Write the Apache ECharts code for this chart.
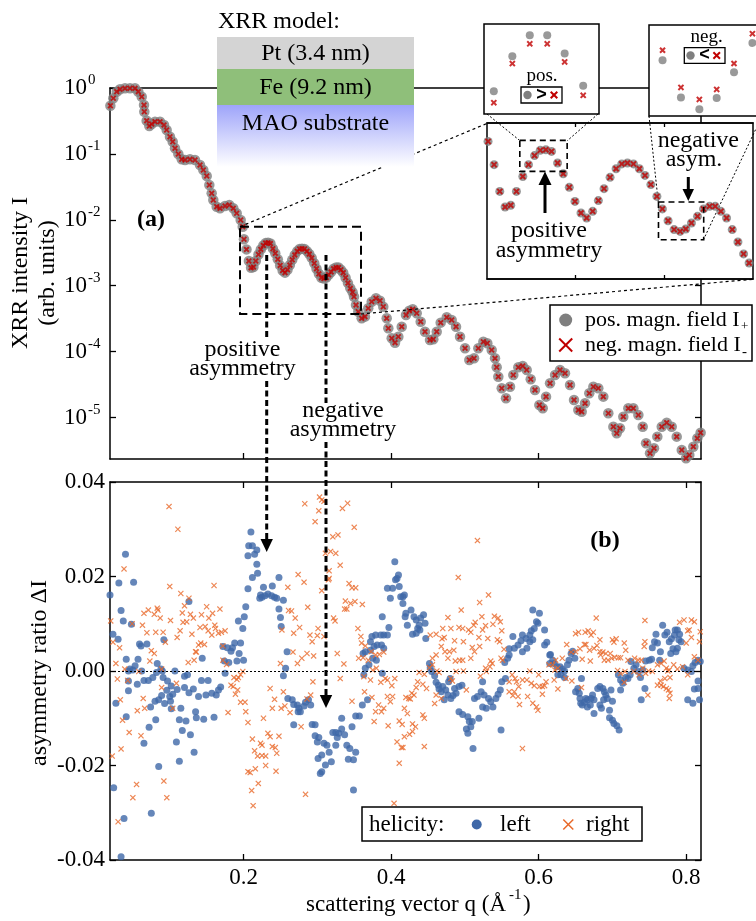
<!DOCTYPE html>
<html>
<head>
<meta charset="utf-8">
<script src="https://cdn.jsdelivr.net/npm/echarts@6/dist/echarts.min.js"></script>
<style>
html, body { margin: 0; padding: 0; background: #fff; }
#chart { width: 756px; height: 921px; }
</style>
</head>
<body>
<div id="chart"></div>
<script>
// tick positions
const qTicks = [0.2, 0.4, 0.6, 0.8];
const decades = [0, -1, -2, -3, -4, -5];
const insetTicks = [0.25, 0.3];

// XRR curve, [q (1/A), log10 I]
const xrrLow = [[0.0195,-0.270],[0.0235,-0.156],[0.0281,-0.056],[0.0326,-0.020],[0.0393,-0.005],[0.0461,-0.003],[0.0529,-0.005],[0.0574,-0.056],[0.0620,-0.132],[0.0651,-0.258],[0.0655,-0.360],[0.0687,-0.496],[0.0723,-0.577],[0.0755,-0.546],[0.0800,-0.511],[0.0868,-0.511],[0.0922,-0.561],[0.0958,-0.637],[0.1003,-0.739],[0.1040,-0.815],[0.1071,-0.915],[0.1116,-1.002],[0.1162,-1.082],[0.1207,-1.093],[0.1274,-1.082],[0.1342,-1.093],[0.1410,-1.168],[0.1455,-1.244],[0.1501,-1.335],[0.1536,-1.472],[0.1568,-1.598],[0.1590,-1.700],[0.1636,-1.801],[0.1681,-1.826],[0.1749,-1.791],[0.1807,-1.775],[0.1861,-1.826],[0.1907,-1.901],[0.1961,-2.003],[0.1989,-2.105]];
const xrrZoom = [[0.2006,-2.295],[0.2040,-2.449],[0.2072,-2.626],[0.2102,-2.729],[0.2134,-2.718],[0.2166,-2.626],[0.2202,-2.527],[0.2234,-2.449],[0.2268,-2.389],[0.2300,-2.354],[0.2332,-2.350],[0.2364,-2.361],[0.2398,-2.438],[0.2430,-2.509],[0.2464,-2.599],[0.2496,-2.692],[0.2530,-2.769],[0.2562,-2.802],[0.2596,-2.758],[0.2628,-2.687],[0.2660,-2.608],[0.2694,-2.533],[0.2728,-2.476],[0.2760,-2.444],[0.2792,-2.438],[0.2826,-2.444],[0.2859,-2.476],[0.2891,-2.520],[0.2924,-2.581],[0.2958,-2.659],[0.2989,-2.742],[0.3021,-2.820],[0.3055,-2.879],[0.3089,-2.891],[0.3121,-2.875],[0.3153,-2.835],[0.3187,-2.791],[0.3221,-2.742],[0.3255,-2.725],[0.3287,-2.725],[0.3319,-2.758],[0.3351,-2.802],[0.3383,-2.879],[0.3415,-2.961],[0.3447,-3.040],[0.3478,-3.100]];
const xrrHigh = [[0.3497,-3.167],[0.3524,-3.293],[0.3555,-3.395],[0.3601,-3.495],[0.3646,-3.470],[0.3690,-3.343],[0.3737,-3.243],[0.3795,-3.191],[0.3850,-3.228],[0.3894,-3.319],[0.3940,-3.495],[0.3962,-3.646],[0.4008,-3.798],[0.4053,-3.865],[0.4098,-3.774],[0.4144,-3.622],[0.4202,-3.445],[0.4247,-3.380],[0.4293,-3.358],[0.4347,-3.419],[0.4401,-3.546],[0.4459,-3.698],[0.4527,-3.824],[0.4572,-3.813],[0.4618,-3.698],[0.4672,-3.561],[0.4754,-3.480],[0.4821,-3.520],[0.4880,-3.622],[0.4934,-3.774],[0.5002,-3.950],[0.5060,-4.127],[0.5124,-4.102],[0.5182,-3.950],[0.5250,-3.850],[0.5304,-3.874],[0.5363,-3.976],[0.5408,-4.102],[0.5431,-4.238],[0.5453,-4.381],[0.5499,-4.557],[0.5557,-4.709],[0.5612,-4.533],[0.5656,-4.355],[0.5724,-4.238],[0.5784,-4.219],[0.5838,-4.279],[0.5892,-4.420],[0.5950,-4.583],[0.6009,-4.810],[0.6055,-4.861],[0.6100,-4.684],[0.6154,-4.481],[0.6222,-4.355],[0.6289,-4.279],[0.6357,-4.329],[0.6425,-4.507],[0.6479,-4.734],[0.6537,-4.886],[0.6583,-4.912],[0.6628,-4.785],[0.6686,-4.633],[0.6741,-4.533],[0.6808,-4.557],[0.6876,-4.684],[0.6944,-4.936],[0.7012,-5.140],[0.7058,-5.240],[0.7102,-5.164],[0.7147,-4.988],[0.7215,-4.861],[0.7283,-4.861],[0.7351,-4.962],[0.7410,-5.140],[0.7455,-5.392],[0.7509,-5.543],[0.7563,-5.467],[0.7608,-5.291],[0.7668,-5.140],[0.7735,-5.079],[0.7803,-5.140],[0.7871,-5.291],[0.7939,-5.493],[0.7997,-5.619],[0.8042,-5.569],[0.8096,-5.443],[0.8150,-5.316],[0.8195,-5.231]];

// zoomed pairs, I+ vs I-
const posPlus = [[0.2234,-2.449],[0.2268,-2.387],[0.2300,-2.350],[0.2332,-2.350],[0.2364,-2.382],[0.2398,-2.439]];
const posMinus = [[0.2234,-2.469],[0.2268,-2.400],[0.2300,-2.365],[0.2332,-2.365],[0.2364,-2.397],[0.2398,-2.456]];
const negPlus = [[0.3021,-2.817],[0.3055,-2.873],[0.3089,-2.891],[0.3121,-2.874],[0.3153,-2.835],[0.3187,-2.791]];
const negMinus = [[0.3021,-2.802],[0.3055,-2.858],[0.3089,-2.876],[0.3121,-2.861],[0.3153,-2.822],[0.3187,-2.777]];

// asymmetry ratio, [q, dI]
const leftHelicity = [[0.019,0.0161],[0.040,0.0247],[0.031,0.0186],[0.051,0.0188],[0.034,0.0128],[0.037,0.0106],[0.048,0.0099],[0.023,0.0078],[0.030,0.0067],[0.059,0.0057],[0.061,0.0053],[0.069,0.0057],[0.092,0.0066],[0.126,0.0147],[0.041,0.0025],[0.057,0.0025],[0.046,0.0004],[0.050,0.0002],[0.053,0.0011],[0.062,0.0000],[0.083,0.0016],[0.088,0.0004],[0.082,-0.0003],[0.107,0.0000],[0.120,-0.0011],[0.124,-0.0008],[0.044,-0.0042],[0.027,-0.0068],[0.041,-0.0097],[0.056,-0.0028],[0.065,-0.0020],[0.071,-0.0020],[0.077,-0.0014],[0.091,-0.0014],[0.097,-0.0021],[0.102,-0.0032],[0.110,-0.0039],[0.120,-0.0035],[0.132,-0.0038],[0.143,-0.0020],[0.152,-0.0020],[0.139,-0.0054],[0.149,-0.0051],[0.096,-0.0041],[0.100,-0.0054],[0.104,-0.0049],[0.089,-0.0052],[0.080,-0.0064],[0.074,-0.0076],[0.093,-0.0069],[0.101,-0.0064],[0.126,-0.0046],[0.157,-0.0047],[0.163,-0.0051],[0.166,-0.0040],[0.169,-0.0034],[0.175,-0.0005],[0.180,0.0018],[0.188,0.0059],[0.178,0.0049],[0.183,0.0042],[0.185,0.0049],[0.194,0.0037],[0.196,0.0059],[0.199,0.0090],[0.193,0.0106],[0.201,0.0115],[0.203,0.0136],[0.206,0.0174],[0.212,0.0198],[0.219,0.0207],[0.218,0.0226],[0.206,0.0244],[0.207,0.0265],[0.212,0.0265],[0.215,0.0247],[0.210,0.0294],[0.222,0.0154],[0.135,-0.0086],[0.160,-0.0098],[0.146,-0.0102],[0.136,-0.0099],[0.113,-0.0103],[0.122,-0.0106],[0.115,-0.0079],[0.102,-0.0080],[0.085,-0.0061],[0.081,-0.0103],[0.072,-0.0119],[0.065,-0.0153],[0.117,-0.0126],[0.128,-0.0135],[0.133,-0.0172],[0.109,-0.0150],[0.113,-0.0191],[0.085,-0.0202],[0.024,-0.0247],[0.038,-0.0312],[0.075,-0.0301],[0.034,-0.0393],[0.200,0.0023],[0.191,0.0021],[0.172,0.0052],[0.174,0.0021],[0.144,0.0027],[0.044,-0.0021],[0.044,0.0000],[0.090,0.0000],
[0.218,0.0256],[0.248,0.0198],[0.239,0.0180],[0.227,0.0177],[0.225,0.0156],[0.223,0.0161],[0.229,0.0159],[0.233,0.0163],[0.238,0.0159],[0.242,0.0156],[0.245,0.0154],[0.254,0.0150],[0.248,0.0131],[0.250,0.0113],[0.251,0.0094],[0.259,0.0041],[0.257,0.0006],[0.254,-0.0010],[0.260,-0.0058],[0.266,-0.0061],[0.268,-0.0071],[0.273,-0.0072],[0.275,-0.0079],[0.277,-0.0086],[0.282,-0.0074],[0.284,-0.0066],[0.288,-0.0061],[0.291,-0.0072],[0.274,-0.0086],[0.268,-0.0114],[0.293,-0.0113],[0.297,-0.0114],[0.297,-0.0137],[0.302,-0.0141],[0.300,-0.0150],[0.309,-0.0153],[0.313,-0.0157],[0.316,-0.0172],[0.306,-0.0178],[0.311,-0.0199],[0.306,-0.0213],[0.304,-0.0217],[0.301,-0.0185],[0.319,-0.0192],[0.321,-0.0130],[0.325,-0.0130],[0.329,-0.0132],[0.333,-0.0123],[0.337,-0.0135],[0.327,-0.0141],[0.325,-0.0157],[0.340,-0.0157],[0.344,-0.0164],[0.342,-0.0187],[0.349,-0.0188],[0.352,-0.0172],[0.347,-0.0118],[0.352,-0.0095],[0.357,-0.0095],[0.333,-0.0100],[0.361,-0.0072],[0.368,-0.0061],[0.363,-0.0008],[0.365,0.0006],[0.370,0.0013],[0.362,0.0037],[0.365,0.0041],[0.372,0.0044],[0.375,0.0027],[0.372,0.0062],[0.374,0.0073],[0.379,0.0076],[0.386,0.0076],[0.390,0.0076],[0.395,0.0076],[0.397,0.0092],[0.388,0.0115],[0.395,0.0175],[0.399,0.0154],[0.402,0.0175],[0.406,0.0193],[0.408,0.0196],[0.411,0.0179],[0.410,0.0203],[0.405,0.0231],[0.413,0.0157],[0.416,0.0143],[0.420,0.0122],[0.380,0.0023],[0.377,0.0052],[0.381,0.0055],[0.387,0.0055],[0.390,0.0048],[0.388,-0.0005],[0.349,-0.0252],
[0.416,0.0157],[0.418,0.0161],[0.419,0.0115],[0.422,0.0097],[0.427,0.0129],[0.431,0.0115],[0.434,0.0108],[0.436,0.0090],[0.438,0.0097],[0.440,0.0112],[0.444,0.0119],[0.446,0.0101],[0.429,0.0078],[0.434,0.0080],[0.439,0.0087],[0.447,0.0069],[0.452,0.0016],[0.453,0.0007],[0.455,-0.0001],[0.459,-0.0010],[0.461,-0.0024],[0.464,-0.0030],[0.465,-0.0038],[0.468,-0.0044],[0.470,-0.0033],[0.474,-0.0040],[0.478,-0.0023],[0.477,-0.0051],[0.472,-0.0061],[0.481,-0.0058],[0.484,-0.0052],[0.488,-0.0047],[0.486,-0.0037],[0.492,-0.0033],[0.496,-0.0030],[0.480,-0.0016],[0.492,-0.0086],[0.497,-0.0092],[0.504,-0.0097],[0.506,-0.0107],[0.510,-0.0107],[0.508,-0.0118],[0.502,-0.0123],[0.504,-0.0132],[0.519,-0.0100],[0.511,-0.0164],[0.513,-0.0058],[0.517,-0.0054],[0.522,-0.0044],[0.524,-0.0023],[0.526,-0.0051],[0.532,-0.0058],[0.535,-0.0065],[0.538,-0.0076],[0.542,-0.0058],[0.545,-0.0049],[0.548,-0.0040],[0.550,-0.0023],[0.555,-0.0016],[0.549,-0.0125],[0.524,-0.0076],[0.529,-0.0079],[0.560,0.0047],[0.560,0.0034],[0.558,0.0027],[0.567,0.0048],[0.572,0.0055],[0.576,0.0064],[0.578,0.0076],[0.583,0.0069],[0.588,0.0076],[0.590,0.0085],[0.594,0.0090],[0.597,0.0104],[0.601,0.0122],[0.599,0.0101],[0.592,0.0129],[0.578,0.0041],[0.584,0.0048],[0.588,0.0062],[0.592,0.0066],[0.608,0.0087],[0.611,0.0061],[0.608,0.0055],[0.615,0.0034],[0.615,0.0016],[0.565,0.0073],[0.554,0.0018],
[0.616,0.0035],[0.619,0.0023],[0.621,0.0016],[0.625,0.0009],[0.629,0.0009],[0.632,0.0004],[0.635,0.0000],[0.635,-0.0014],[0.626,-0.0008],[0.630,-0.0008],[0.639,0.0013],[0.641,0.0023],[0.644,0.0037],[0.646,0.0042],[0.649,0.0027],[0.650,-0.0044],[0.653,-0.0037],[0.655,-0.0047],[0.656,-0.0058],[0.657,-0.0068],[0.659,-0.0072],[0.662,-0.0066],[0.664,-0.0058],[0.666,-0.0061],[0.671,-0.0058],[0.673,-0.0051],[0.675,-0.0061],[0.670,-0.0072],[0.666,-0.0076],[0.658,-0.0016],[0.680,-0.0037],[0.683,-0.0033],[0.687,-0.0037],[0.689,-0.0044],[0.691,-0.0051],[0.693,-0.0058],[0.683,-0.0072],[0.685,-0.0079],[0.688,-0.0061],[0.696,-0.0083],[0.675,-0.0090],[0.696,-0.0099],[0.700,-0.0104],[0.702,-0.0111],[0.706,-0.0116],[0.709,-0.0125],[0.700,-0.0064],[0.698,-0.0040],[0.708,-0.0008],[0.711,-0.0019],[0.714,-0.0026],[0.711,-0.0040],[0.718,-0.0014],[0.721,-0.0016],[0.724,-0.0008],[0.725,0.0020],[0.729,0.0006],[0.732,0.0013],[0.735,-0.0001],[0.738,-0.0014],[0.739,-0.0061],[0.744,-0.0037],[0.741,0.0002],[0.745,0.0021],[0.750,0.0023],[0.753,0.0025],[0.754,0.0049],[0.759,0.0078],[0.757,0.0062],[0.761,0.0059],[0.765,0.0041],[0.764,0.0023],[0.768,0.0097],[0.771,0.0076],[0.774,0.0082],[0.777,0.0062],[0.780,0.0068],[0.785,0.0087],[0.788,0.0087],[0.784,0.0076],[0.791,0.0078],[0.790,0.0066],[0.788,0.0048],[0.782,0.0047],[0.779,0.0037],[0.786,0.0041],[0.793,0.0062],[0.797,0.0006],[0.802,0.0002],[0.807,-0.0001],[0.809,0.0011],[0.812,0.0018],[0.816,0.0023],[0.819,0.0020],[0.802,-0.0061],[0.809,-0.0068],[0.811,-0.0038],[0.816,-0.0037],[0.818,-0.0061],[0.816,-0.0021]];

const rightHelicity = [[0.099,0.0348],[0.111,0.0300],[0.038,0.0216],[0.100,0.0179],[0.160,0.0181],[0.115,0.0164],[0.020,0.0106],[0.126,0.0154],[0.065,0.0122],[0.071,0.0129],[0.079,0.0120],[0.083,0.0133],[0.087,0.0112],[0.084,0.0129],[0.101,0.0107],[0.117,0.0123],[0.120,0.0138],[0.118,0.0103],[0.123,0.0104],[0.128,0.0120],[0.132,0.0112],[0.141,0.0092],[0.143,0.0119],[0.150,0.0136],[0.153,0.0112],[0.158,0.0122],[0.161,0.0097],[0.168,0.0131],[0.148,0.0094],[0.152,0.0085],[0.157,0.0076],[0.162,0.0090],[0.166,0.0080],[0.170,0.0082],[0.175,0.0085],[0.063,0.0097],[0.049,0.0100],[0.023,0.0061],[0.032,0.0049],[0.069,0.0081],[0.081,0.0082],[0.091,0.0082],[0.094,0.0061],[0.110,0.0071],[0.114,0.0085],[0.130,0.0078],[0.139,0.0055],[0.142,0.0059],[0.147,0.0056],[0.075,0.0043],[0.079,0.0037],[0.135,0.0041],[0.136,0.0040],[0.172,0.0053],[0.027,0.0016],[0.073,0.0021],[0.125,0.0018],[0.133,0.0023],[0.172,0.0023],[0.177,0.0014],[0.039,0.0004],[0.089,0.0004],[0.029,-0.0017],[0.043,-0.0020],[0.058,-0.0001],[0.089,-0.0035],[0.109,-0.0026],[0.033,-0.0061],[0.064,-0.0058],[0.056,-0.0084],[0.066,-0.0079],[0.104,-0.0079],[0.036,-0.0104],[0.045,-0.0130],[0.061,-0.0137],[0.034,-0.0165],[0.022,-0.0180],[0.179,-0.0088],[0.187,-0.0014],[0.191,-0.0018],[0.193,-0.0014],[0.196,-0.0008],[0.199,-0.0001],[0.183,-0.0030],[0.186,-0.0033],[0.192,-0.0040],[0.189,-0.0049],[0.196,-0.0066],[0.202,-0.0066],[0.203,-0.0086],[0.206,-0.0109],[0.212,-0.0144],[0.215,-0.0169],[0.219,-0.0180],[0.216,-0.0207],[0.220,-0.0238],[0.206,-0.0213],[0.209,-0.0215],[0.211,-0.0253],[0.213,-0.0285],[0.055,-0.0240],[0.050,-0.0268],[0.092,-0.0233],[0.096,-0.0268],[0.030,-0.0319],
[0.283,0.0354],[0.303,0.0368],[0.306,0.0362],[0.309,0.0359],[0.302,0.0339],[0.297,0.0316],[0.334,0.0344],[0.341,0.0355],[0.350,0.0304],[0.321,0.0284],[0.328,0.0288],[0.318,0.0253],[0.325,0.0249],[0.331,0.0224],[0.311,0.0249],[0.316,0.0212],[0.274,0.0204],[0.282,0.0188],[0.260,0.0177],[0.306,0.0170],[0.315,0.0193],[0.316,0.0196],[0.343,0.0185],[0.347,0.0176],[0.352,0.0176],[0.287,0.0135],[0.261,0.0128],[0.265,0.0127],[0.270,0.0112],[0.276,0.0092],[0.268,0.0080],[0.252,0.0087],[0.338,0.0148],[0.345,0.0143],[0.351,0.0147],[0.361,0.0141],[0.337,0.0131],[0.340,0.0131],[0.322,0.0112],[0.324,0.0106],[0.301,0.0090],[0.300,0.0075],[0.293,0.0062],[0.309,0.0073],[0.290,0.0076],[0.267,0.0040],[0.279,0.0027],[0.286,0.0037],[0.295,0.0032],[0.273,0.0016],[0.250,0.0016],[0.327,0.0037],[0.336,0.0015],[0.355,0.0090],[0.359,0.0073],[0.360,0.0059],[0.365,0.0053],[0.356,0.0027],[0.362,0.0028],[0.369,0.0023],[0.373,0.0041],[0.379,0.0034],[0.384,0.0035],[0.390,0.0040],[0.375,0.0002],[0.380,0.0006],[0.363,-0.0012],[0.372,-0.0019],[0.386,-0.0024],[0.392,-0.0016],[0.395,-0.0019],[0.405,-0.0016],[0.401,-0.0031],[0.331,-0.0016],[0.294,-0.0023],[0.236,-0.0037],[0.242,-0.0060],[0.254,-0.0044],[0.239,-0.0079],[0.251,-0.0079],[0.256,-0.0074],[0.263,-0.0088],[0.347,-0.0064],[0.364,-0.0044],[0.374,-0.0056],[0.383,-0.0072],[0.390,-0.0079],[0.395,-0.0054],[0.402,-0.0054],[0.399,-0.0065],[0.387,-0.0086],[0.379,-0.0086],[0.377,-0.0107],[0.396,-0.0116],[0.411,-0.0106],[0.415,-0.0113],[0.408,-0.0150],[0.414,-0.0162],[0.411,-0.0195],[0.278,-0.0118],[0.227,-0.0100],[0.233,-0.0132],[0.236,-0.0139],[0.223,-0.0153],[0.225,-0.0157],[0.225,-0.0179],[0.230,-0.0180],[0.239,-0.0160],[0.243,-0.0162],[0.245,-0.0174],[0.248,-0.0138],[0.230,-0.0200],[0.244,-0.0212],[0.284,-0.0261],[0.404,-0.0280],[0.286,-0.0059],[0.291,-0.0051],
[0.517,0.0276],[0.491,0.0198],[0.532,0.0161],[0.520,0.0145],[0.495,0.0129],[0.477,0.0113],[0.540,0.0116],[0.545,0.0112],[0.548,0.0104],[0.523,0.0115],[0.514,0.0103],[0.512,0.0097],[0.505,0.0087],[0.508,0.0082],[0.492,0.0092],[0.497,0.0090],[0.470,0.0090],[0.453,0.0076],[0.469,0.0068],[0.472,0.0071],[0.486,0.0064],[0.498,0.0062],[0.519,0.0071],[0.531,0.0069],[0.544,0.0066],[0.547,0.0062],[0.550,0.0085],[0.538,0.0099],[0.528,0.0096],[0.524,0.0087],[0.553,0.0046],[0.468,0.0052],[0.473,0.0041],[0.479,0.0041],[0.485,0.0044],[0.477,0.0027],[0.461,0.0034],[0.456,0.0027],[0.487,0.0021],[0.493,0.0023],[0.497,0.0023],[0.508,0.0027],[0.513,0.0041],[0.520,0.0052],[0.510,0.0050],[0.456,0.0013],[0.452,0.0007],[0.445,-0.0007],[0.438,-0.0003],[0.436,-0.0023],[0.443,-0.0028],[0.448,-0.0037],[0.434,-0.0035],[0.428,-0.0047],[0.424,-0.0058],[0.420,-0.0056],[0.426,-0.0059],[0.431,-0.0051],[0.462,0.0000],[0.465,-0.0003],[0.481,-0.0016],[0.483,-0.0021],[0.502,-0.0040],[0.498,0.0000],[0.488,-0.0001],[0.468,-0.0058],[0.459,-0.0069],[0.461,-0.0051],[0.535,0.0021],[0.537,0.0016],[0.549,0.0027],[0.551,0.0023],[0.529,-0.0001],[0.534,0.0009],[0.528,0.0006],[0.521,-0.0011],[0.564,-0.0008],[0.568,-0.0016],[0.560,-0.0023],[0.570,-0.0023],[0.573,-0.0033],[0.578,-0.0019],[0.584,-0.0019],[0.588,0.0000],[0.590,-0.0026],[0.594,-0.0031],[0.601,-0.0033],[0.608,-0.0031],[0.610,-0.0023],[0.605,-0.0033],[0.614,0.0013],[0.600,-0.0008],[0.560,-0.0044],[0.567,-0.0044],[0.572,-0.0054],[0.574,-0.0071],[0.585,-0.0054],[0.592,-0.0068],[0.597,-0.0076],[0.599,-0.0083],[0.605,-0.0049],[0.565,-0.0052],[0.418,-0.0079],[0.422,-0.0090],[0.429,-0.0112],[0.433,-0.0118],[0.443,-0.0093],[0.445,-0.0100],[0.425,-0.0134],[0.429,-0.0128],[0.418,-0.0139],[0.416,-0.0162],[0.445,-0.0160],[0.578,-0.0164],[0.461,0.0078],[0.481,0.0090],
[0.678,0.0112],[0.744,0.0107],[0.638,0.0056],[0.650,0.0079],[0.654,0.0082],[0.663,0.0082],[0.667,0.0085],[0.671,0.0076],[0.674,0.0082],[0.683,0.0066],[0.700,0.0066],[0.702,0.0061],[0.705,0.0068],[0.716,0.0059],[0.718,0.0044],[0.662,0.0056],[0.664,0.0056],[0.656,0.0047],[0.650,0.0041],[0.644,0.0040],[0.669,0.0044],[0.675,0.0048],[0.679,0.0054],[0.683,0.0041],[0.687,0.0040],[0.691,0.0037],[0.697,0.0037],[0.684,0.0034],[0.659,0.0025],[0.670,0.0021],[0.689,0.0023],[0.694,0.0023],[0.699,0.0027],[0.703,0.0029],[0.708,0.0028],[0.711,0.0028],[0.721,0.0023],[0.730,0.0027],[0.735,0.0023],[0.739,0.0023],[0.743,0.0052],[0.744,0.0062],[0.632,0.0027],[0.623,0.0023],[0.619,0.0013],[0.626,0.0006],[0.622,0.0002],[0.637,-0.0016],[0.645,-0.0021],[0.658,-0.0035],[0.626,-0.0038],[0.621,-0.0019],[0.707,0.0001],[0.711,-0.0005],[0.717,-0.0001],[0.729,-0.0001],[0.736,-0.0008],[0.741,0.0006],[0.745,-0.0005],[0.749,0.0000],[0.754,-0.0001],[0.761,0.0013],[0.766,0.0016],[0.770,0.0021],[0.773,0.0006],[0.775,0.0000],[0.777,0.0002],[0.783,0.0013],[0.788,0.0004],[0.795,0.0009],[0.802,-0.0008],[0.811,0.0030],[0.816,0.0023],[0.819,0.0083],[0.818,0.0062],[0.807,0.0071],[0.804,0.0087],[0.802,0.0085],[0.811,0.0104],[0.807,0.0108],[0.797,0.0108],[0.791,0.0103],[0.800,0.0059],[0.761,-0.0030],[0.766,-0.0030],[0.769,-0.0033],[0.773,-0.0037],[0.776,-0.0040],[0.777,-0.0058],[0.778,-0.0047],[0.765,-0.0021],[0.771,-0.0016],[0.778,-0.0014],[0.748,-0.0051],[0.716,-0.0024]];

const SERIF = '"Liberation Serif", "Times New Roman", serif';
const GRAY = '#7f7f7f', RED = '#c00000', BLUE = '#3f68a8', ORANGE = '#e8692a';
const X_BOLD = 'path://M0,2.2L2.2,0L5,2.8L7.8,0L10,2.2L7.2,5L10,7.8L7.8,10L5,7.2L2.2,10L0,7.8L2.8,5Z';
const X_THIN = 'path://M0,1.4L1.4,0L5,3.6L8.6,0L10,1.4L6.4,5L10,8.6L8.6,10L5,6.4L1.4,10L0,8.6L3.6,5Z';

const AXL = { onZero: false, lineStyle: { color: '#000', width: 1.5 } };
const TKS = { color: '#000', width: 1.3 };

function tickX(grid, pos, min, max, ticks, len, z) {
    return {
        gridIndex: grid, type: 'value', position: pos, min: min, max: max, z: z || 0,
        axisLine: AXL, axisTick: { customValues: ticks, inside: true, length: len, lineStyle: TKS },
        axisLabel: { show: false }, splitLine: { show: false }
    };
}
function hidden(grid, min, max) {
    return { gridIndex: grid, type: 'value', min: min, max: max, show: false, splitLine: { show: false } };
}

function text(x, y, s, size, align, extra) {
    let el = { type: 'text', x: x, y: y, z: 36,
        style: { text: s, fill: '#000', fontSize: size, fontFamily: SERIF, align: align || 'center', verticalAlign: 'middle' } };
    if (extra) Object.assign(el.style, extra);
    return el;
}
function line(x1, y1, x2, y2, w, dash, z) {
    return { type: 'line', z: z, shape: { x1: x1, y1: y1, x2: x2, y2: y2 },
        style: { stroke: '#000', lineWidth: w, lineDash: dash || null } };
}
function box(x, y, w, h, fill, z) {
    return { type: 'rect', z: z, shape: { x: x, y: y, width: w, height: h },
        style: { fill: fill, stroke: '#000', lineWidth: 1.5 } };
}
function tri(pts) {
    return { type: 'polygon', z: 40, shape: { points: pts }, style: { fill: '#000' } };
}
function cross(cx, cy, r, color, w) {
    return [
        { type: 'line', z: 36, shape: { x1: cx - r, y1: cy - r, x2: cx + r, y2: cy + r }, style: { stroke: color, lineWidth: w } },
        { type: 'line', z: 36, shape: { x1: cx - r, y1: cy + r, x2: cx + r, y2: cy - r }, style: { stroke: color, lineWidth: w } }
    ];
}

let graphics = [
    // XRR model stack
    text(218, 22, 'XRR model:', 24, 'left'),
    { type: 'rect', z: 20, shape: { x: 217, y: 37, width: 197, height: 32 }, style: { fill: '#d4d4d4' } },
    { type: 'rect', z: 20, shape: { x: 217, y: 69, width: 197, height: 36 }, style: { fill: '#8fbf7a' } },
    { type: 'rect', z: 20, shape: { x: 217, y: 105, width: 197, height: 62 },
      style: { fill: new echarts.graphic.LinearGradient(0, 0, 0, 1, [{ offset: 0, color: '#9ea4fa' }, { offset: 1, color: '#ffffff' }]) } },
    text(315.5, 54, 'Pt (3.4 nm)', 24),
    text(315.5, 88, 'Fe (9.2 nm)', 24),
    text(315.5, 124, 'MAO substrate', 24),

    // inset frames
    box(487, 123, 266, 156, '#fff', 20),
    box(484, 24, 115, 90, '#fff', 20),
    box(649, 25, 120, 91, '#fff', 20),

    // zoom connectors
    line(240, 226.7, 487.3, 123.3, 1.2, [3, 3], 15),
    line(361, 314, 752.7, 279.3, 1.2, [3, 3], 15),
    line(487, 114, 520, 140.7, 1, [2, 2], 25),
    line(598, 114, 567.3, 140.7, 1, [2, 2], 25),
    line(649, 116, 658.3, 202.3, 1, [2, 2], 25),
    line(703.3, 240, 762, 116, 1, [2, 2], 25),

    // pos / neg keys
    text(542, 76, 'pos.', 19),
    { type: 'rect', z: 34, shape: { x: 521, y: 87, width: 41, height: 16 }, style: { fill: '#fff', stroke: '#000', lineWidth: 1.3 } },
    { type: 'circle', z: 36, shape: { cx: 527.5, cy: 95, r: 4.2 }, style: { fill: GRAY } },
    text(541.5, 95, '>', 18, 'center', { fontWeight: 'bold', fontFamily: '"Liberation Sans", sans-serif' }),
    text(706.7, 37, 'neg.', 19),
    { type: 'rect', z: 34, shape: { x: 684.3, y: 47.7, width: 40.7, height: 15.6 }, style: { fill: '#fff', stroke: '#000', lineWidth: 1.3 } },
    { type: 'circle', z: 36, shape: { cx: 690.5, cy: 55.5, r: 4.2 }, style: { fill: GRAY } },
    text(704.5, 55.5, '<', 18, 'center', { fontWeight: 'bold', fontFamily: '"Liberation Sans", sans-serif' }),

    // inset annotations
    line(545, 213, 545, 182, 3, null, 36),
    { type: 'polygon', z: 36, shape: { points: [[538.5, 185], [551.5, 185], [545, 171.5]] }, style: { fill: '#000' } },
    text(549, 231, 'positive', 24),
    text(549, 251, 'asymmetry', 24),
    line(688.3, 177, 688.3, 191, 3, null, 36),
    { type: 'polygon', z: 36, shape: { points: [[682.5, 189], [694, 189], [688.3, 201]] }, style: { fill: '#000' } },
    text(698.3, 141, 'negative', 24),
    text(694, 160, 'asym.', 24),

    // legend (a)
    box(550, 305, 202, 56, '#fff', 20),
    { type: 'circle', z: 36, shape: { cx: 565.7, cy: 320, r: 6.5 }, style: { fill: GRAY } },
    text(585, 320, 'pos. magn. field I', 22, 'left'),
    text(741, 327, '+', 13, 'left'),
    text(585, 345, 'neg. magn. field I', 22, 'left'),
    text(742, 352, '-', 15, 'left'),

    // legend (b)
    box(362, 807, 280, 34, '#fff', 20),
    text(369, 824.5, 'helicity:', 23, 'left'),
    { type: 'circle', z: 36, shape: { cx: 476.7, cy: 824.5, r: 5 }, style: { fill: BLUE } },
    text(500, 824.5, 'left', 23, 'left'),
    text(586, 824.5, 'right', 23, 'left'),

    // panel letters
    text(151, 220, '(a)', 24, 'center', { fontWeight: 'bold' }),
    text(605, 541, '(b)', 24, 'center', { fontWeight: 'bold' }),

    // annotations between panels
    text(242.5, 350, 'positive', 24),
    text(242.5, 369, 'asymmetry', 24),
    text(343, 411, 'negative', 24),
    text(343, 430, 'asymmetry', 24),
    line(266.7, 255, 266.7, 340, 3, [6, 3.5], 40),
    line(266.7, 381, 266.7, 541, 3, [6, 3.5], 40),
    tri([[260.5, 539], [272.9, 539], [266.7, 552]]),
    line(326, 255, 326, 403, 3, [6, 3.5], 40),
    line(326, 442, 326, 697, 3, [6, 3.5], 40),
    tri([[319.8, 695], [332.2, 695], [326, 708]]),

    // axis titles
    { type: 'text', x: 21, y: 273, rotation: Math.PI / 2, z: 36,
      style: { text: 'XRR intensity I', fill: '#000', fontSize: 24, fontFamily: SERIF, align: 'center', verticalAlign: 'middle' } },
    { type: 'text', x: 48, y: 273, rotation: Math.PI / 2, z: 36,
      style: { text: '(arb. units)', fill: '#000', fontSize: 24, fontFamily: SERIF, align: 'center', verticalAlign: 'middle' } },
    { type: 'text', x: 40, y: 673, rotation: Math.PI / 2, z: 36,
      style: { text: 'asymmetry ratio \u0394I', fill: '#000', fontSize: 24, fontFamily: SERIF, align: 'center', verticalAlign: 'middle' } },
    text(506, 905, 'scattering vector q (\u00c5', 23, 'right'),
    text(509, 895, '-1', 15, 'left'),
    text(523, 905, ')', 23, 'left')
];
graphics = graphics.concat(cross(554, 95, 3.3, RED, 2), cross(716.7, 55.5, 3.3, RED, 2),
    cross(565.7, 345, 6.5, RED, 2), cross(568.3, 824.5, 5, ORANGE, 1.5));

let chart = echarts.init(document.getElementById('chart'), null, { renderer: 'canvas', width: 756, height: 921 });

chart.setOption({
    animation: false,
    backgroundColor: '#fff',
    textStyle: { fontFamily: SERIF, color: '#000' },
    grid: [
        { left: 110, top: 88, width: 591, height: 371, containLabel: false, outerBoundsMode: 'none' },
        { left: 110, top: 482, width: 591, height: 378, containLabel: false, outerBoundsMode: 'none' },
        { left: 487, top: 123, width: 266, height: 156, containLabel: false, outerBoundsMode: 'none' },
        { left: 484, top: 24, width: 115, height: 90, containLabel: false, outerBoundsMode: 'none' },
        { left: 649, top: 25, width: 111, height: 91, containLabel: false, outerBoundsMode: 'none' }
    ],
    xAxis: [
        tickX(0, 'bottom', 0.019, 0.82, qTicks, 6),
        tickX(0, 'top', 0.019, 0.82, qTicks, 6),
        {
            gridIndex: 1, type: 'value', position: 'bottom', min: 0.019, max: 0.82,
            axisLine: AXL, axisTick: { customValues: qTicks, inside: true, length: 6, lineStyle: TKS },
            axisLabel: { customValues: qTicks, formatter: v => v.toFixed(1), margin: 6, fontSize: 23, fontFamily: SERIF, color: '#000' },
            splitLine: { show: false }
        },
        tickX(1, 'top', 0.019, 0.82, qTicks, 6),
        tickX(2, 'bottom', 0.2, 0.35, insetTicks, 4, 25),
        tickX(2, 'top', 0.2, 0.35, insetTicks, 4, 25),
        hidden(3, 0.2216, 0.2427),
        hidden(4, 0.2996, 0.3201)
    ],
    yAxis: [
        {
            gridIndex: 0, type: 'value', position: 'left', min: -5.63, max: 0,
            axisLine: AXL, axisTick: { customValues: decades, inside: true, length: 6, lineStyle: TKS },
            axisLabel: { customValues: decades, formatter: () => '10', align: 'right', margin: 23, fontSize: 23, fontFamily: SERIF, color: '#000' },
            splitLine: { show: false }
        },
        {
            gridIndex: 0, type: 'value', position: 'left', min: -5.63, max: 0,
            axisLine: { show: false }, axisTick: { show: false },
            axisLabel: { customValues: decades, formatter: v => (v === 0 ? '0' : String(v)), align: 'left', verticalAlign: 'bottom',
                         margin: 22, fontSize: 15, fontFamily: SERIF, color: '#000' },
            splitLine: { show: false }
        },
        {
            gridIndex: 0, type: 'value', position: 'right', min: -5.63, max: 0,
            axisLine: AXL, axisTick: { customValues: decades, inside: true, length: 6, lineStyle: TKS },
            axisLabel: { show: false }, splitLine: { show: false }
        },
        {
            gridIndex: 1, type: 'value', position: 'left', min: -0.04, max: 0.04, interval: 0.02,
            axisLine: AXL, axisTick: { inside: true, length: 6, lineStyle: TKS },
            axisLabel: { formatter: v => v.toFixed(2), margin: 5, fontSize: 23, fontFamily: SERIF, color: '#000', showMinLabel: true, showMaxLabel: true },
            splitLine: { show: false }
        },
        {
            gridIndex: 1, type: 'value', position: 'right', min: -0.04, max: 0.04, interval: 0.02,
            axisLine: AXL, axisTick: { inside: true, length: 6, lineStyle: TKS },
            axisLabel: { show: false }, splitLine: { show: false }
        },
        hidden(2, -3.206, -2.173),
        hidden(3, -2.489, -2.330),
        hidden(4, -2.901, -2.764)
    ],
    series: [
        {
            name: 'pos. magn. field', type: 'scatter', xAxisIndex: 0, yAxisIndex: 0, clip: false, silent: true,
            data: xrrLow.concat(xrrZoom, xrrHigh), symbol: 'circle', symbolSize: 10.5, itemStyle: { color: GRAY },
            markArea: {
                silent: true, z: 3,
                itemStyle: { color: 'rgba(0,0,0,0)', borderColor: '#000', borderWidth: 2, borderType: [9, 5] },
                data: [[{ coord: [0.1952, -2.105] }, { coord: [0.3592, -3.43] }]]
            }
        },
        {
            name: 'neg. magn. field', type: 'scatter', xAxisIndex: 0, yAxisIndex: 0, clip: false, silent: true,
            data: xrrLow.concat(xrrZoom, xrrHigh), symbol: X_BOLD, symbolSize: 6, symbolKeepAspect: true, itemStyle: { color: RED }
        },
        {
            type: 'scatter', xAxisIndex: 4, yAxisIndex: 5, z: 30, silent: true,
            data: xrrZoom, symbol: 'circle', symbolSize: 9, itemStyle: { color: GRAY },
            markArea: {
                silent: true, z: 32,
                itemStyle: { color: 'rgba(0,0,0,0)', borderColor: '#000', borderWidth: 1.6, borderType: [6, 4] },
                data: [
                    [{ coord: [0.2185, -2.288] }, { coord: [0.2452, -2.493] }],
                    [{ coord: [0.2967, -2.696] }, { coord: [0.3222, -2.946] }]
                ]
            }
        },
        {
            type: 'scatter', xAxisIndex: 4, yAxisIndex: 5, z: 31, silent: true,
            data: xrrZoom, symbol: X_BOLD, symbolSize: 6.5, symbolKeepAspect: true, itemStyle: { color: RED }
        },
        { type: 'scatter', xAxisIndex: 6, yAxisIndex: 6, z: 30, silent: true, data: posPlus, symbol: 'circle', symbolSize: 8, itemStyle: { color: GRAY } },
        { type: 'scatter', xAxisIndex: 6, yAxisIndex: 6, z: 31, silent: true, data: posMinus, symbol: X_BOLD, symbolSize: 6.5, itemStyle: { color: RED } },
        { type: 'scatter', xAxisIndex: 7, yAxisIndex: 7, z: 30, silent: true, data: negPlus, symbol: 'circle', symbolSize: 8, itemStyle: { color: GRAY } },
        { type: 'scatter', xAxisIndex: 7, yAxisIndex: 7, z: 31, silent: true, data: negMinus, symbol: X_BOLD, symbolSize: 6.5, itemStyle: { color: RED } },
        {
            name: 'left', type: 'scatter', xAxisIndex: 2, yAxisIndex: 3, silent: true,
            data: leftHelicity, symbol: 'circle', symbolSize: 7, itemStyle: { color: BLUE },
            markLine: {
                silent: true, symbol: ['none', 'none'], label: { show: false },
                lineStyle: { color: '#000', type: [2, 2], width: 1 },
                data: [{ yAxis: 0 }]
            }
        },
        {
            name: 'right', type: 'scatter', xAxisIndex: 2, yAxisIndex: 3, silent: true,
            data: rightHelicity, symbol: X_THIN, symbolSize: 6, symbolKeepAspect: true, itemStyle: { color: ORANGE }
        }
    ],
    graphic: { elements: graphics }
});
</script>
</body>
</html>
